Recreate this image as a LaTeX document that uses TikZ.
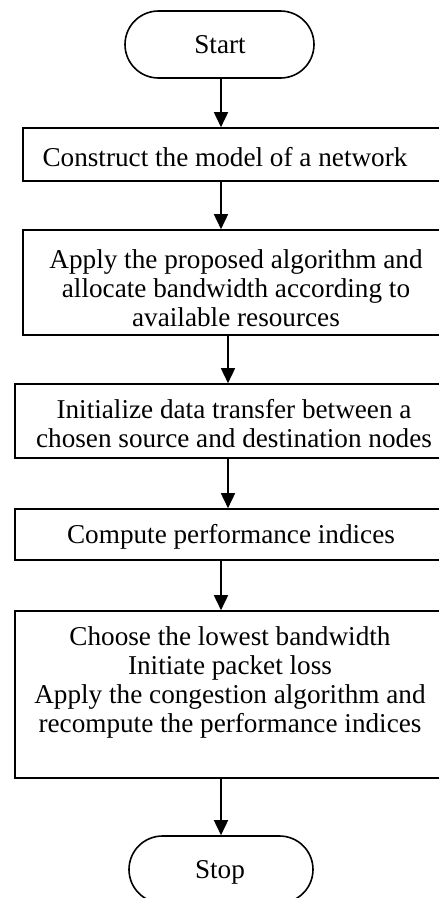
\documentclass[tikz,border=0pt]{standalone}
\usepackage{fontspec}
\setmainfont{Liberation Serif}
\usetikzlibrary{arrows.meta,shapes.misc}
\begin{document}
\begin{tikzpicture}[x=1pt,y=-1pt,
  every node/.style={font=\fontsize{27.2}{29}\selectfont},
  term/.style={draw,line width=1.6pt,rounded rectangle,minimum width=189pt,minimum height=67pt,inner sep=0pt},
  procbox/.style={draw,line width=1.6pt,rectangle,inner sep=0pt},
  txt/.style={align=center,inner sep=0pt},
  arr/.style={line width=1.6pt,-{Triangle[length=15pt,width=14pt]}}]
\useasboundingbox (0,0) rectangle (439,898);
\clip (0,0) rectangle (439,898);
\node[term] (start) at (219.5,44.5) {};
\node[txt,anchor=base] (startt) at (220,53) {Start};
\node[procbox,minimum width=427pt,minimum height=53pt] (box1) at (236.5,154.5) {};
\node[txt] (box1t) at (225,157) {Construct the model of a network};
\node[procbox,minimum width=427pt,minimum height=105pt] (box2) at (236.5,282.5) {};
\node[txt] (box2t) at (236,288) {Apply the proposed algorithm and\\allocate bandwidth according to\\available resources};
\node[procbox,minimum width=435pt,minimum height=74pt] (box3) at (232.5,421) {};
\node[txt] (box3t) at (234,423.5) {Initialize data transfer between a\\chosen source and destination nodes};
\node[procbox,minimum width=435pt,minimum height=51pt] (box4) at (232.5,534.5) {};
\node[txt] (box4t) at (231,537) {Compute performance indices};
\node[procbox,minimum width=435pt,minimum height=167pt] (box5) at (232.5,694.5) {};
\node[txt] (box5t) at (230,682.5) {Choose the lowest bandwidth\\Initiate packet loss\\Apply the congestion algorithm and\\recompute the performance indices};
\node[term,minimum width=184pt] (stop) at (221,869.5) {};
\node[txt,anchor=base] (stopt) at (220,878) {Stop};
\draw[arr] (start.south -| 221,0) -- (box1.north -| 221,0);
\draw[arr] (box1.south -| 221,0) -- (box2.north -| 221,0);
\draw[arr] (box2.south -| 228,0) -- (box3.north -| 228,0);
\draw[arr] (box3.south -| 228,0) -- (box4.north -| 228,0);
\draw[arr] (box4.south -| 221,0) -- (box5.north -| 221,0);
\draw[arr] (box5.south -| 221,0) -- (stop.north -| 221,0);
\end{tikzpicture}
\end{document}
